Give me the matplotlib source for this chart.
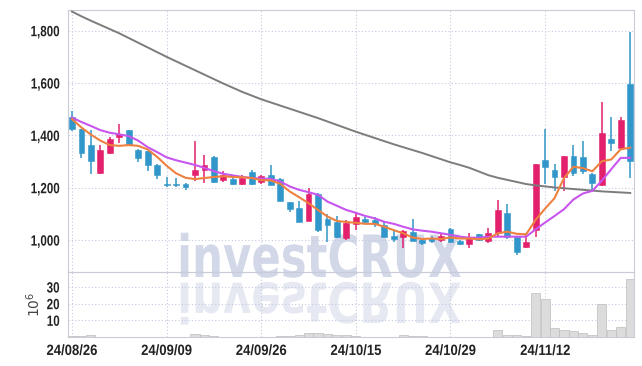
import matplotlib
matplotlib.use("Agg")
import matplotlib.pyplot as plt
import numpy as np
from matplotlib.patheffects import AbstractPathEffect
from matplotlib.transforms import Affine2D

# Daily candles, one per trading day from 24/08/26 to 24/11/25 (prices in KRW).
opens = [1472, 1423, 1362, 1256, 1333, 1395, 1419, 1346, 1340, 1288,
         1215, 1215, 1215, 1250, 1267, 1317, 1231, 1235, 1215, 1260,
         1220, 1250, 1233, 1144, 1122, 1073, 1177, 1081, 1070, 1009,
         1062, 1081, 1077, 1058, 1015, 1010, 1032, 1000, 1006, 1000,
         1042, 997, 985, 1022, 997, 1026, 1103, 1010, 974, 1038,
         1304, 1269, 1241, 1323, 1318, 1254, 1212, 1385, 1353, 1596]
highs = [1492, 1425, 1420, 1362, 1395, 1442, 1421, 1348, 1342, 1290,
         1242, 1238, 1217, 1378, 1325, 1320, 1263, 1244, 1250, 1266,
         1250, 1285, 1236, 1146, 1150, 1199, 1179, 1099, 1092, 1077,
         1103, 1087, 1087, 1070, 1038, 1038, 1081, 1004, 1015, 1022,
         1045, 1000, 1028, 1024, 1045, 1154, 1137, 1012, 1026, 1291,
         1426, 1291, 1323, 1365, 1378, 1256, 1526, 1472, 1470, 1795]
lows = [1417, 1314, 1254, 1254, 1330, 1372, 1363, 1297, 1265, 1235,
        1204, 1204, 1192, 1224, 1219, 1218, 1222, 1209, 1209, 1212,
        1213, 1210, 1150, 1106, 1068, 1071, 1032, 991, 1008, 1000,
        1038, 1062, 1051, 1011, 994, 968, 995, 983, 990, 994,
        992, 982, 968, 996, 987, 1013, 1005, 942, 970, 1013,
        1214, 1188, 1186, 1244, 1253, 1190, 1205, 1339, 1350, 1237]
closes = [1426, 1333, 1301, 1346, 1388, 1407, 1365, 1312, 1287, 1250,
          1209, 1212, 1201, 1269, 1286, 1220, 1247, 1215, 1237, 1215,
          1243, 1212, 1151, 1119, 1070, 1177, 1038, 1058, 1010, 1064,
          1087, 1070, 1062, 1013, 1004, 1036, 997, 990, 996, 1015,
          994, 985, 1010, 1000, 1026, 1113, 1010, 955, 994, 1291,
          1278, 1241, 1323, 1256, 1265, 1218, 1408, 1369, 1458, 1301]

# Moving averages as drawn on the chart.
ma_short = [1462, 1430, 1403, 1380, 1363, 1360, 1363, 1360, 1346, 1318,
            1284, 1255, 1238, 1233, 1237, 1241, 1244, 1241, 1240, 1237,
            1229, 1228, 1215, 1186, 1164, 1141, 1115, 1090, 1073, 1069,
            1066, 1062, 1062, 1051, 1038, 1026, 1010, 1004, 1006, 1004,
            1010, 1006, 1006, 1003, 1006, 1026, 1032, 1024, 1022, 1077,
            1120, 1160, 1237, 1280, 1275, 1263, 1301, 1308, 1347, 1353]
ma_mid = [1468, 1451, 1436, 1420, 1410, 1404, 1397, 1380, 1355, 1336,
          1316, 1305, 1296, 1287, 1276, 1263, 1253, 1247, 1241, 1237,
          1235, 1234, 1224, 1205, 1192, 1183, 1173, 1147, 1131, 1115,
          1104, 1092, 1083, 1070, 1062, 1051, 1041, 1036, 1032, 1026,
          1020, 1013, 1009, 1009, 1013, 1013, 1013, 1013, 1013, 1041,
          1067, 1092, 1118, 1155, 1178, 1188, 1227, 1271, 1314, 1314]
ma_long = [1873, 1855, 1838, 1822, 1806, 1790, 1772, 1754, 1736, 1718,
           1700, 1683, 1666, 1649, 1632, 1615, 1598, 1582, 1566, 1552,
           1538, 1526, 1514, 1502, 1490, 1478, 1466, 1453, 1440, 1427,
           1414, 1402, 1390, 1378, 1366, 1355, 1344, 1333, 1321, 1309,
           1297, 1287, 1276, 1262, 1248, 1238, 1230, 1222, 1214, 1209,
           1205, 1201, 1198, 1195, 1192, 1189, 1186, 1184, 1182, 1180]

# Volume in millions of shares.
volume = [0.6, 0.8, 1.4, 0.2, 0.2, 0.2, 0.2, 0.2, 0.2, 0.2,
          0.2, 0.2, 0.2, 2.0, 1.0, 0.8, 0.3, 0.3, 0.3, 0.3,
          0.3, 0.3, 0.8, 0.4, 1.0, 2.6, 2.6, 1.6, 1.0, 1.0,
          0.4, 0.2, 0.1, 0.2, 0.2, 1.4, 0.8, 0.4, 0.05, 0.2,
          0.2, 0.2, 0.2, 0.2, 0.2, 4.4, 1.4, 1.4, 0.8, 26.6,
          23.0, 5.6, 4.4, 3.8, 2.6, 1.4, 20.0, 4.4, 6.2, 35.0]

date_ticks = [0, 10, 20, 30, 40, 50]
date_labels = ["24/08/26", "24/09/09", "24/09/26", "24/10/15", "24/10/29", "24/11/12"]
price_ticks = [1000, 1200, 1400, 1600, 1800]
volume_ticks = [10, 20, 30]

UP = "#e2206c"
DOWN = "#3196c9"
GRID = "#c5c9df"
SPINE = "#c9cbd8"
TICK_FONT = dict(family="Liberation Sans", weight="bold", size=10.7)


class Squash(AbstractPathEffect):
    """Scale a text's glyph outline about an edge (x) and the baseline or middle (y)."""

    def __init__(self, sx=1.0, sy=1.0, anchor="center", flip_mid=False):
        super().__init__()
        self.sx, self.sy, self.anchor, self.flip_mid = sx, sy, anchor, flip_mid

    def draw_path(self, renderer, gc, tpath, affine, rgbFace=None):
        ext = tpath.get_extents()
        x0 = {"left": ext.x0, "center": (ext.x0 + ext.x1) / 2, "right": ext.x1}[self.anchor]
        y0 = (ext.y0 + ext.y1) / 2 if self.flip_mid else 0
        t = (Affine2D().translate(-x0, -y0).scale(self.sx, self.sy)
             .translate(x0, y0) + affine)
        renderer.draw_path(gc, tpath, t, rgbFace)


fig = plt.figure(figsize=(6.42, 3.66), dpi=100)
ax = fig.add_axes([68 / 642, 94 / 366, 566 / 642, 262 / 366])
axv = fig.add_axes([68 / 642, 29 / 366, 566 / 642, 65 / 366], sharex=ax)
for a in (ax, axv):
    a.set_facecolor("none")
    for s in a.spines.values():
        s.set_color(SPINE)
        s.set_linewidth(0.8)
    a.grid(True, linestyle=(0, (1, 2)), color=GRID, linewidth=0.8)
    a.tick_params(length=0, labelcolor="#222222")
    a.set_axisbelow(True)

# Watermark with its mirror image underneath, behind both panels.
wm = dict(ha="center", fontsize=42, weight="bold", family="DejaVu Sans", zorder=-2)
fig.text(319 / 642, 1 - 277 / 366, "investCRUX", color="#d3d8e9", va="baseline",
         path_effects=[Squash(0.745, 1.0)], **wm)
fig.text(319 / 642, 1 - 280 / 366, "investCRUX", color="#e6e9f2", va="top",
         path_effects=[Squash(0.745, -0.95, flip_mid=True)], **wm)

x = np.arange(len(closes))
o, h, l, c = map(np.asarray, (opens, highs, lows, closes))
colors = np.where(c >= o, UP, DOWN)
ax.vlines(x, l, h, colors=colors, linewidth=1.1, zorder=3)
ax.bar(x, np.abs(c - o), bottom=np.minimum(o, c), width=0.62,
       color=colors, edgecolor=colors, linewidth=0.4, zorder=4)

ax.plot(x, ma_long, color="#7c7c7c", linewidth=1.4, zorder=5)
ax.plot(x, ma_mid, color="#c755ee", linewidth=1.5, zorder=5)
ax.plot(x, ma_short, color="#ee8040", linewidth=1.5, zorder=6)

axv.bar(x, volume, width=0.96, color="#dcdcdc", edgecolor="#bdbdbd",
        linewidth=0.5, zorder=3)

ax.set_xlim(-0.42, 59.4)
ax.set_ylim(878, 1879)
ax.set_yticks(price_ticks)
ax.set_yticklabels([f"{v:,}" for v in price_ticks], **TICK_FONT)
ax.tick_params(labelbottom=False, pad=6)

axv.set_ylim(0, 39)
axv.set_yticks(volume_ticks)
axv.set_yticklabels([str(v) for v in volume_ticks], **TICK_FONT)
axv.set_xticks(date_ticks)
axv.set_xticklabels(date_labels, **TICK_FONT)
axv.tick_params(axis="x", pad=5)
axv.tick_params(axis="y", pad=6)
axv.set_ylabel(r"$10^6$", fontsize=10, color="#444444")
axv.yaxis.set_label_coords(-0.045, 0.5)

for lab in ax.get_yticklabels() + axv.get_yticklabels():
    lab.set_path_effects([Squash(0.78, 1.0, "right")])
for lab in axv.get_xticklabels():
    lab.set_path_effects([Squash(0.88, 1.0, "center")])

fig.savefig("out.png", dpi=100)
